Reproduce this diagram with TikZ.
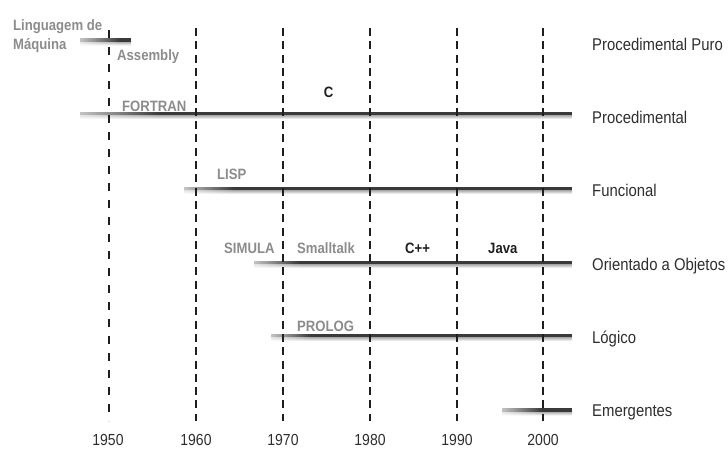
\documentclass[tikz,border=0pt]{standalone}
\usepackage{fontspec}
\usetikzlibrary{fadings}
\setmainfont{Liberation Sans}[FakeStretch=0.875]
\definecolor{labelgrey}{HTML}{8C8C8C}
\definecolor{sidegrey}{HTML}{2E2E2E}
\definecolor{dashcol}{HTML}{1E1E1E}
\definecolor{bardark}{HTML}{3A3A3A}
\definecolor{shadowtop}{HTML}{A6A6A6}
% white veil that is strong on the left and vanishes to the right
\tikzfading[name=veilfade, left color=transparent!0, right color=transparent!100]
% a language bar: left x, right x, centre y, length of the faded left end
\newcommand\langbar[4]{%
  \fill[top color=shadowtop, bottom color=white] (#1,#3+1.5) rectangle (#2,#3+5.5);
  \fill[bardark] (#1,#3-2) rectangle (#2,#3+1.5);
  \fill[white, opacity=0.7, path fading=veilfade] (#1,#3-2.5) rectangle (#1+#4,#3+6);
}
\begin{document}
\begin{tikzpicture}[x=1pt,y=-1pt,
  lbl/.style={inner sep=0pt, anchor=base west, font=\bfseries\fontsize{15}{18}\selectfont, text=labelgrey},
  keylbl/.style={lbl, text=black!88},
  side/.style={inner sep=0pt, anchor=base west, font=\fontsize{17}{20}\selectfont, text=sidegrey},
  year/.style={inner sep=0pt, anchor=base, font=\fontsize{16}{19}\selectfont, text=sidegrey},
  era/.style={line width=2.6pt, draw=dashcol, dash pattern=on 8pt off 5.3pt},
  era50/.style={line width=1.3pt, draw=dashcol, dash pattern=on 8pt off 9pt},
]
\useasboundingbox (0,0) rectangle (728,448);

% language bars
\langbar{80}{131}{40}{40}
\langbar{80}{572}{113.5}{80}
\langbar{184}{572}{188.5}{50}
\langbar{254}{572}{262.5}{45}
\langbar{271}{572}{335.5}{40}
\langbar{502}{572}{410}{40}

% decade markers
\coordinate (t1950) at (109,30);  \coordinate (b1950) at (109,421);
\coordinate (t1960) at (196,28);  \coordinate (b1960) at (196,421);
\coordinate (t1970) at (283,28);  \coordinate (b1970) at (283,421);
\coordinate (t1980) at (370,28);  \coordinate (b1980) at (370,421);
\coordinate (t1990) at (457,28);  \coordinate (b1990) at (457,421);
\coordinate (t2000) at (543,28);  \coordinate (b2000) at (543,421);
\draw[era50] (t1950) -- (b1950);
\foreach \d in {1960,1970,1980,1990,2000}
  \draw[era] (t\d) -- (b\d);

% years
\node[year] (y1950) at (108,445) {1950};
\node[year] (y1960) at (196,445) {1960};
\node[year] (y1970) at (283,445) {1970};
\node[year] (y1980) at (370,445) {1980};
\node[year] (y1990) at (457,445) {1990};
\node[year] (y2000) at (543,445) {2000};

% languages
\node[lbl] (lm1) at (13,30) {Linguagem de};
\node[lbl] (lm2) at (13,49.5) {Máquina};
\node[lbl] (asm) at (117,60) {Assembly};
\node[lbl] (fortran) at (122,111) {FORTRAN};
\node[keylbl, anchor=base] (c) at (328.5,97) {C};
\node[lbl] (lisp) at (217,179) {LISP};
\node[lbl] (simula) at (224,253) {SIMULA};
\node[lbl] (smalltalk) at (297,253) {Smalltalk};
\node[keylbl] (cpp) at (405,253) {C++};
\node[keylbl] (java) at (488,253) {Java};
\node[lbl] (prolog) at (297,331) {PROLOG};

% paradigms
\node[side] (pp) at (592,50.5) {Procedimental Puro};
\node[side] (proc) at (592,123.5) {Procedimental};
\node[side] (func) at (592,196.5) {Funcional};
\node[side] (oo) at (592,270.5) {Orientado a Objetos};
\node[side] (log) at (592,343.5) {Lógico};
\node[side] (emer) at (592,416.5) {Emergentes};
\end{tikzpicture}
\end{document}
